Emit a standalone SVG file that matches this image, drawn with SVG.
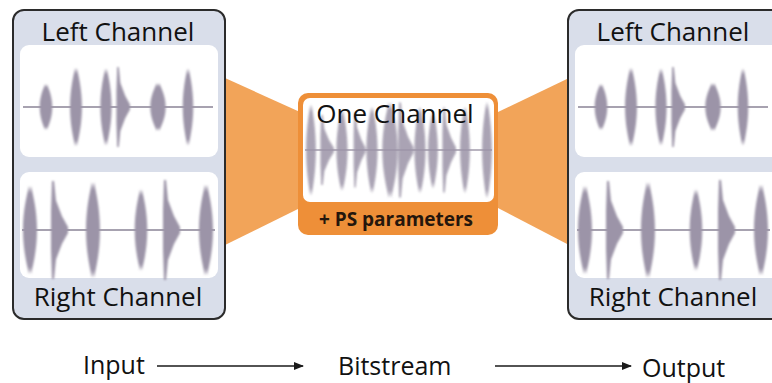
<svg xmlns="http://www.w3.org/2000/svg" width="772" height="383" viewBox="0 0 772 383">
<style>
.lbl{font-family:"Open Sans","Liberation Sans",sans-serif;font-size:26px;fill:#111111;text-anchor:middle}
.bot{font-family:"Open Sans","Liberation Sans",sans-serif;font-size:25px;fill:#111111}
.ps{font-family:"Open Sans","Liberation Sans",sans-serif;font-size:19px;font-weight:bold;fill:#24160c;text-anchor:middle}
.panel{fill:#d9deea;stroke:#2b2b2b;stroke-width:2}
.win{fill:#ffffff}
.wave{fill:#9c94a8;filter:url(#soft)}
.axis{stroke:#a7a2b0;stroke-width:2}
.fan{fill:#f2a459}
.conn{stroke:#1a1a1a;stroke-width:1.5;fill:none;marker-end:url(#ah)}
</style>
<defs>
<filter id="soft" x="-30%" y="-10%" width="160%" height="120%"><feGaussianBlur stdDeviation="0.9"/></filter>
<marker id="ah" viewBox="0 0 10 8" refX="9" refY="4" markerWidth="10" markerHeight="8" markerUnits="userSpaceOnUse" orient="auto"><path d="M0,0 L10,4 L0,8 Z" fill="#1a1a1a"/></marker>
<path id="lens" d="M-7,0 C-7,-22 -3,-38 -1,-48 L0,-40 L1,-48 C3,-38 7,-22 7,0 C7,22 3,38 1,48 L0,40 L-1,48 C-3,38 -7,22 -7,0Z"/>
<path id="tri" d="M-1,-50 L1,-50 L3,-30 L9,-14 L15,-3 L15,3 L9,14 L3,30 L1,50 L-1,50 L-2,20 L-2,-20Z"/>
<g id="waveTop">
<line class="axis" x1="23" y1="107" x2="213" y2="107"/>
<g class="wave">
<use href="#lens" transform="translate(46,107) scale(0.9,0.48)"/>
<use href="#lens" transform="translate(76,107) scale(0.85,0.82)"/>
<use href="#lens" transform="translate(106,107) scale(0.8,0.8)"/>
<use href="#tri" transform="translate(118,107) scale(0.8,0.8)"/>
<use href="#lens" transform="translate(158,107) scale(1.1,0.5)"/>
<use href="#lens" transform="translate(188,107) scale(0.75,0.8)"/>
</g>
</g>
<g id="waveBot">
<line class="axis" x1="22" y1="230" x2="215" y2="230"/>
<g class="wave">
<use href="#lens" transform="translate(30,230) scale(1,0.92)"/>
<use href="#tri" transform="translate(53,230) scale(1,0.98)"/>
<use href="#lens" transform="translate(93,230) scale(1,1)"/>
<use href="#lens" transform="translate(141,230) scale(0.9,0.85)"/>
<use href="#tri" transform="translate(165,230) scale(1,1)"/>
<use href="#lens" transform="translate(206,230) scale(1,0.95)"/>
</g>
</g>
</defs>

<g id="connectors">
<polygon class="fan" points="225,78 300,112 300,208 225,245"/>
<polygon class="fan" points="498,112 569,78 569,245 498,208"/>
<line class="conn" x1="157" y1="366" x2="303" y2="366"/>
<line class="conn" x1="495" y1="366" x2="631" y2="366"/>
</g>

<g id="input-panel">
<rect class="panel" x="13" y="10" width="212" height="309" rx="11"/>
<rect class="win" x="20" y="45" width="198" height="112" rx="9"/>
<rect class="win" x="20" y="172" width="198" height="106" rx="9"/>
<use href="#waveTop"/>
<use href="#waveBot"/>
<text class="lbl" x="118" y="41">Left Channel</text>
<text class="lbl" x="118" y="306">Right Channel</text>
</g>

<g id="output-panel">
<rect class="panel" x="568" y="10" width="214" height="309" rx="11"/>
<rect class="win" x="575" y="45" width="210" height="112" rx="9"/>
<rect class="win" x="575" y="172" width="210" height="106" rx="9"/>
<use href="#waveTop" transform="translate(555,0)"/>
<use href="#waveBot" transform="translate(555,0)"/>
<text class="lbl" x="673" y="41">Left Channel</text>
<text class="lbl" x="673" y="306">Right Channel</text>
</g>

<g id="bitstream-box">
<rect x="298" y="93" width="200" height="142" rx="10" fill="#ee8f38"/>
<rect x="303" y="98" width="191" height="104" rx="7" fill="#ffffff"/>
<line x1="305" y1="150" x2="492" y2="150" stroke="#b9b4c0" stroke-width="2"/>
<g class="wave" opacity="0.85">
<use href="#lens" transform="translate(311,150) scale(0.7,0.95)"/>
<use href="#tri" transform="translate(322,150) scale(0.8,0.7)"/>
<use href="#lens" transform="translate(342,150) scale(0.8,0.85)"/>
<use href="#tri" transform="translate(355,150) scale(0.7,0.75)"/>
<use href="#lens" transform="translate(372,150) scale(0.8,0.9)"/>
<use href="#lens" transform="translate(390,150) scale(1.1,1)"/>
<use href="#tri" transform="translate(400,150) scale(0.9,0.95)"/>
<use href="#lens" transform="translate(420,150) scale(0.8,0.9)"/>
<use href="#lens" transform="translate(433,150) scale(0.7,0.8)"/>
<use href="#tri" transform="translate(444,150) scale(0.8,0.85)"/>
<use href="#lens" transform="translate(465,150) scale(0.7,0.9)"/>
<use href="#lens" transform="translate(487,150) scale(0.7,1)"/>
</g>
<text class="lbl" x="395" y="123">One Channel</text>
<text class="ps" x="396" y="226">+ PS parameters</text>
</g>

<g id="labels">
<text class="bot" x="83" y="374">Input</text>
<text class="bot" x="338" y="375">Bitstream</text>
<text class="bot" x="642" y="377">Output</text>
</g>
</svg>
